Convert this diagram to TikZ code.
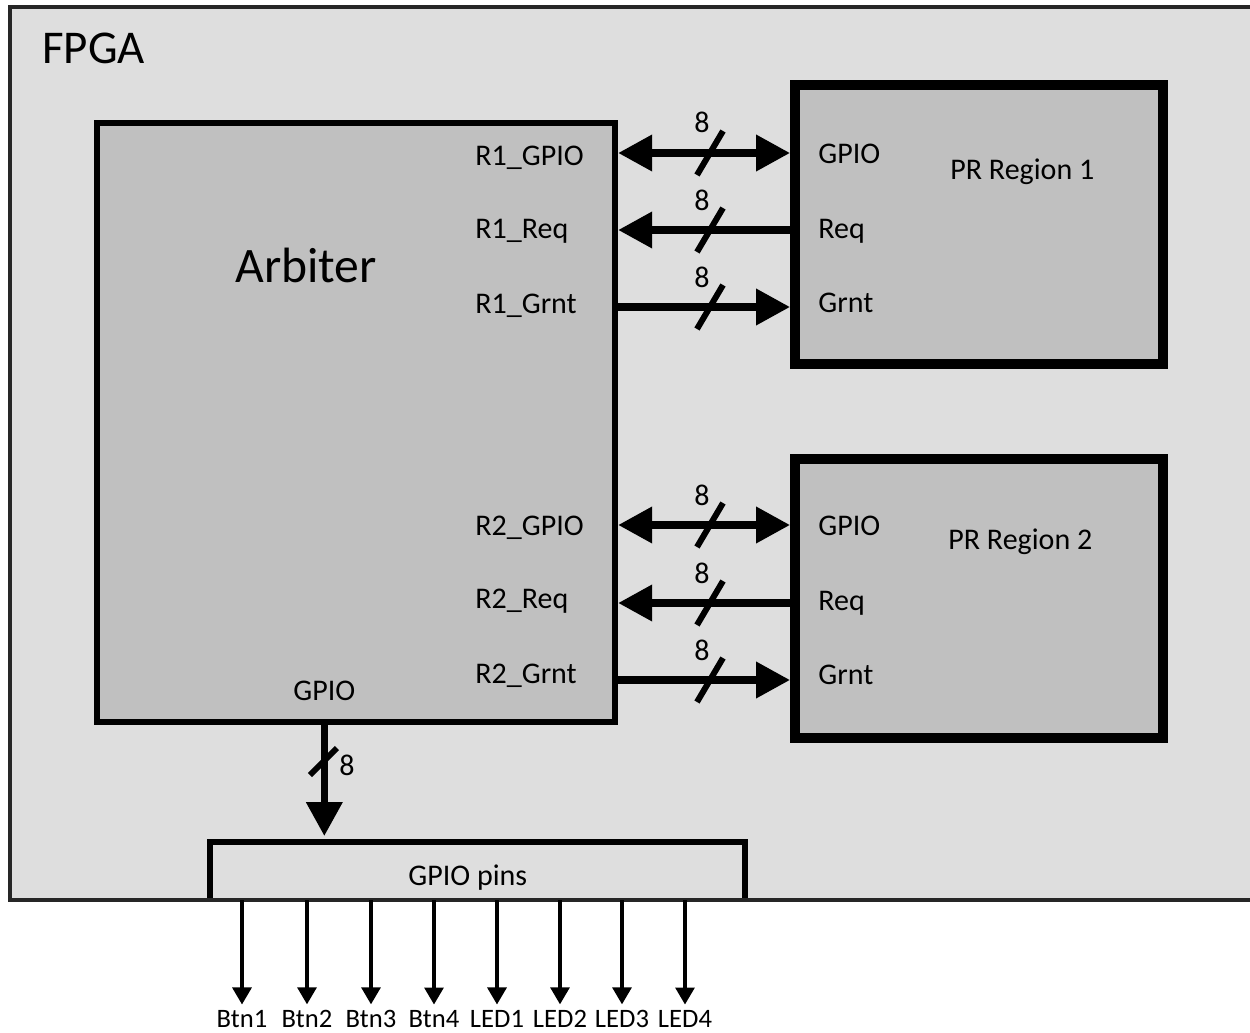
\documentclass[tikz,border=0pt]{standalone}
\usepackage{fontspec}
\setmainfont{Carlito}
\usetikzlibrary{arrows.meta,fit,calc}
\definecolor{fpgabg}{HTML}{DEDEDE}
\definecolor{blockbg}{HTML}{C0C0C0}
\definecolor{fpgaline}{HTML}{262626}
\tikzset{
  Tri/.tip={Triangle[length=17pt,width=17.5pt]},
  SmallTri/.tip={Triangle[length=8.5pt,width=9.5pt]},
  lbl/.style={inner sep=0,anchor=base west,font=\fontsize{15}{18}\selectfont},
  eight/.style={inner sep=0,anchor=base west,font=\fontsize{15}{18}\selectfont},
  blbl/.style={inner sep=0,anchor=base,font=\fontsize{13.3}{16}\selectfont},
  blockbox/.style={inner sep=0,draw=black,fill=blockbg,line join=miter},
  bus/.style={line width=3.6pt},
  slashmark/.style={line width=3pt},
  pinarrow/.style={line width=1.6pt,-{SmallTri}}
}
\begin{document}
\begin{tikzpicture}[x=0.5pt,y=-0.5pt]
\useasboundingbox (0,0) rectangle (1250,1033);
\fill[white] (0,0) rectangle (1250,1033);
% FPGA area
\node[fit={(9.5,6.5) (1275,900)},inner sep=0,outer sep=0,fill=fpgabg] (fpga) {};
\node[lbl,font=\fontsize{23.5}{28}\selectfont] (fpgalbl) at (42,63) {FPGA};
% blocks
\node[blockbox,line width=3.2pt,fit={(97,123) (615,722)}] (arb) {};
\node[blockbox,line width=5pt,fit={(795,85) (1163,364)}] (pr1) {};
\node[blockbox,line width=5pt,fit={(795,459) (1163,738)}] (pr2) {};
% arbiter labels
\node[lbl,font=\fontsize{24.8}{30}\selectfont] (arbname) at (235,282) {Arbiter};
\node[lbl] (r1g) at (475,165) {R1\_GPIO};
\node[lbl] (r1r) at (475,238) {R1\_Req};
\node[lbl] (r1t) at (475,313) {R1\_Grnt};
\node[lbl] (r2g) at (475,535) {R2\_GPIO};
\node[lbl] (r2r) at (475,608) {R2\_Req};
\node[lbl] (r2t) at (475,683) {R2\_Grnt};
\node[lbl] (agpio) at (293,700) {GPIO};
% PR labels
\node[lbl] (p1g) at (818,163) {GPIO};
\node[lbl] (p1r) at (818,238) {Req};
\node[lbl] (p1t) at (818,312) {Grnt};
\node[lbl] (p1n) at (950,179) {PR Region 1};
\node[lbl] (p2g) at (818,535) {GPIO};
\node[lbl] (p2r) at (818,610) {Req};
\node[lbl] (p2t) at (818,684) {Grnt};
\node[lbl] (p2n) at (948,549) {PR Region 2};
% bus rows
\coordinate (ya) at (0,153);
\coordinate (yb) at (0,230);
\coordinate (yc) at (0,307);
\coordinate (yd) at (0,525);
\coordinate (ye) at (0,603);
\coordinate (yf) at (0,680);
\draw[bus,{Tri}-{Tri}] (arb.east |- ya) -- (pr1.west |- ya);
\draw[bus,-{Tri}] (pr1.west |- yb) -- (arb.east |- yb);
\draw[bus,-{Tri}] (arb.east |- yc) -- (pr1.west |- yc);
\draw[bus,{Tri}-{Tri}] (arb.east |- yd) -- (pr2.west |- yd);
\draw[bus,-{Tri}] (pr2.west |- ye) -- (arb.east |- ye);
\draw[bus,-{Tri}] (arb.east |- yf) -- (pr2.west |- yf);
\foreach \yy in {153,230,307,525,603,680}{
  \draw[slashmark] (697,\yy+22) -- (723,\yy-22);
  \node[eight] (e\yy) at (694,\yy-20) {8};
}
% GPIO pins box
\node[fit={(210,842) (745,900)},inner sep=0,outer sep=0,fill=fpgabg] (pins) {};
\draw[line width=3pt,line join=miter] (pins.south west) -- (pins.north west) -- (pins.north east) -- (pins.south east);
\node[lbl] (pinslbl) at (408,885) {GPIO pins};
% arbiter GPIO to pins
\draw[bus,-{Tri},shorten >=3pt] (arb.south -| agpio) -- (pins.north -| agpio);
\draw[slashmark] (310,775) -- (337,748);
\node[eight] (egp) at (339,775) {8};
% FPGA border
\draw[fpgaline,line width=2pt] (fpga.south west) rectangle (fpga.north east);
% outputs
\foreach \xx/\t [count=\i] in {242/Btn1,307/Btn2,371/Btn3,434/Btn4,497/LED1,560/LED2,622/LED3,685/LED4}{
  \node[blbl] (o\i) at (\xx,1027) {\t};
  \draw[pinarrow] (pins.south -| o\i) -- ([yshift=2.5pt]o\i.north);
}
\end{tikzpicture}
\end{document}
